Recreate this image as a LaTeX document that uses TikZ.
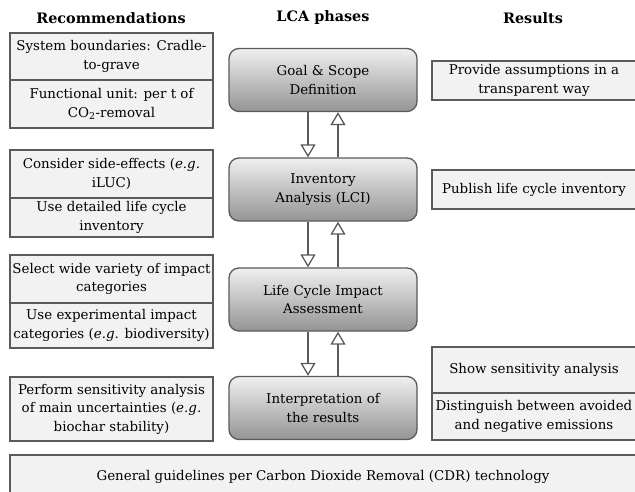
\documentclass[tikz,border=0pt]{standalone}
\usepackage{fontspec}
\setmainfont{DejaVu Serif}
\usetikzlibrary{arrows.meta}

\definecolor{boxline}{HTML}{5A5A5A}
\definecolor{boxfill}{HTML}{F2F2F2}

\tikzstyle{rec}=[draw=boxline,fill=boxfill,line width=1.3pt,align=center,inner sep=0pt,font=\fontsize{13.4}{18.5}\selectfont]
\tikzstyle{phase}=[draw=boxline,line width=1.3pt,rounded corners=10pt,top color=black!6,bottom color=black!42,align=center,inner sep=0pt,minimum width=188pt,minimum height=63pt,font=\fontsize{13.4}{18.5}\selectfont]
\tikzstyle{head}=[font=\fontsize{14.4}{17}\selectfont\bfseries]
\tikzstyle{flow}=[draw=boxline,line width=1.3pt,-{Triangle[open,length=13pt,width=15pt,line width=1.3pt]}]

\begin{document}
\begin{tikzpicture}[x=1pt,y=-1pt]
\useasboundingbox (0,0) rectangle (635,492);

   % column heads
   \node[head] (hrec) at (111,18) {Recommendations};
   \node[head] (hlca) at (323,18) {LCA phases};
   \node[head] (hres) at (533,18) {Results};

   % recommendations
   \node[rec,minimum width=203pt,minimum height=47pt] (rec1a) at (111.5,56.5) {System boundaries: Cradle-\\to-grave};
   \node[rec,minimum width=203pt,minimum height=48pt] (rec1b) at (111.5,104) {Functional unit: per t of\\CO\textsubscript{2}-removal};
   \node[rec,minimum width=203pt,minimum height=48pt] (rec2a) at (111.5,174) {Consider side-effects (\textit{e.g.}\\iLUC)};
   \node[rec,minimum width=203pt,minimum height=39pt] (rec2b) at (111.5,217.5) {Use detailed life cycle\\inventory};
   \node[rec,minimum width=203pt,minimum height=48pt] (rec3a) at (111.5,279) {Select wide variety of impact\\categories};
   \node[rec,minimum width=203pt,minimum height=45pt] (rec3b) at (111.5,325.5) {Use experimental impact\\categories (\textit{e.g.} biodiversity)};
   \node[rec,minimum width=203pt,minimum height=64pt] (rec4) at (111.5,409) {Perform sensitivity analysis\\of main uncertainties (\textit{e.g.}\\biochar stability)};

   % LCA phases
   \node[phase] (goal) at (323,80) {Goal \& Scope\\Definition};
   \node[phase] (inv) at (323,189.5) {Inventory\\Analysis (LCI)};
   \node[phase] (lcia) at (323,299.5) {Life Cycle Impact\\Assessment};
   \node[phase] (interp) at (323,408) {Interpretation of\\the results};

   \draw[flow] ([xshift=-15pt]goal.south) -- ([xshift=-15pt]inv.north);
   \draw[flow] ([xshift=15pt]inv.north) -- ([xshift=15pt]goal.south);
   \draw[flow] ([xshift=-15pt]inv.south) -- ([xshift=-15pt]lcia.north);
   \draw[flow] ([xshift=15pt]lcia.north) -- ([xshift=15pt]inv.south);
   \draw[flow] ([xshift=-15pt]lcia.south) -- ([xshift=-15pt]interp.north);
   \draw[flow] ([xshift=15pt]interp.north) -- ([xshift=15pt]lcia.south);

   % results
   \node[rec,minimum width=204pt,minimum height=39pt] (res1) at (534,80.5) {Provide assumptions in a\\transparent way};
   \node[rec,minimum width=204pt,minimum height=39pt] (res2) at (534,189.5) {Publish life cycle inventory};
   \node[rec,minimum width=204pt,minimum height=46pt] (res3a) at (534,370) {Show sensitivity analysis};
   \node[rec,minimum width=204pt,minimum height=47pt] (res3b) at (534,416.5) {Distinguish between avoided\\and negative emissions};

   % general
   \node[rec,minimum width=626pt,minimum height=43pt] (gen) at (323,476.5) {General guidelines per Carbon Dioxide Removal (CDR) technology};
\end{tikzpicture}
\end{document}
